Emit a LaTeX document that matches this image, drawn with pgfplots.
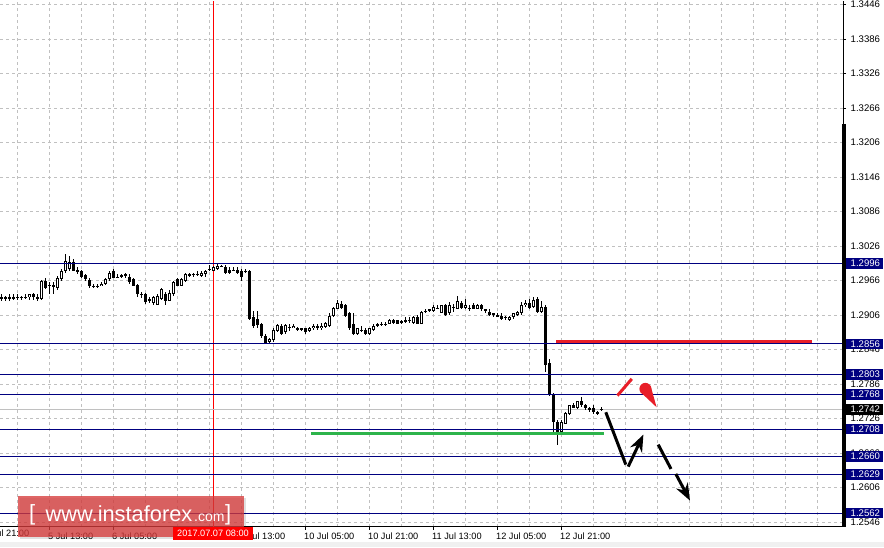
\documentclass[border=0pt]{standalone}
\usepackage{pgfplots}
\pgfplotsset{compat=1.18}
\usepackage{pgfplotstable}
\usepackage{fontspec}
\setmainfont{Liberation Sans}
\usetikzlibrary{arrows.meta}
\definecolor{navy}{RGB}{0,0,128}
\definecolor{gridc}{RGB}{192,192,192}
\definecolor{lvlred}{RGB}{232,30,40}
\definecolor{lvlgreen}{RGB}{45,180,75}
\definecolor{logored}{RGB}{215,60,60}

\pgfplotstableread{
i o h l c
0 1.2938 1.2942 1.2931 1.2935
1 1.2935 1.2940 1.2931 1.2938
2 1.2938 1.2942 1.2930 1.2935
3 1.2935 1.2942 1.2933 1.2938
4 1.2938 1.2942 1.2933 1.2937
5 1.2937 1.2940 1.2933 1.2938
6 1.2938 1.2942 1.2935 1.2937
7 1.2937 1.2943 1.2933 1.2942
8 1.2942 1.2945 1.2933 1.2937
9 1.2937 1.2942 1.2931 1.2935
10 1.2935 1.2968 1.2933 1.2966
11 1.2966 1.2970 1.2952 1.2954
12 1.2957 1.2963 1.2943 1.2959
13 1.2959 1.2963 1.2943 1.2956
14 1.2954 1.2975 1.2949 1.2971
15 1.2968 1.2987 1.2966 1.2983
16 1.2982 1.3013 1.2980 1.3001
17 1.2987 1.3008 1.2983 1.2999
18 1.2999 1.3003 1.2982 1.2983
19 1.2985 1.2989 1.2978 1.2982
20 1.2982 1.2985 1.2971 1.2973
21 1.2975 1.2978 1.2966 1.2968
22 1.2968 1.2971 1.2954 1.2956
23 1.2957 1.2961 1.2954 1.2956
24 1.2956 1.2961 1.2954 1.2957
25 1.2957 1.2963 1.2956 1.2961
26 1.2961 1.2970 1.2959 1.2968
27 1.2968 1.2983 1.2966 1.2980
28 1.2982 1.2987 1.2970 1.2971
29 1.2973 1.2977 1.2970 1.2971
30 1.2975 1.2978 1.2971 1.2973
31 1.2977 1.2980 1.2971 1.2975
32 1.2973 1.2977 1.2961 1.2963
33 1.2968 1.2971 1.2956 1.2957
34 1.2959 1.2961 1.2938 1.2942
35 1.2943 1.2947 1.2935 1.2942
36 1.2943 1.2945 1.2926 1.2928
37 1.2935 1.2938 1.2928 1.2930
38 1.2928 1.2940 1.2924 1.2937
39 1.2924 1.2943 1.2923 1.2940
40 1.2935 1.2954 1.2933 1.2952
41 1.2943 1.2947 1.2923 1.2931
42 1.2931 1.2949 1.2930 1.2945
43 1.2942 1.2966 1.2940 1.2964
44 1.2968 1.2971 1.2956 1.2957
45 1.2957 1.2970 1.2956 1.2968
46 1.2966 1.2980 1.2964 1.2978
47 1.2975 1.2980 1.2973 1.2977
48 1.2977 1.2980 1.2973 1.2978
49 1.2978 1.2982 1.2975 1.2977
50 1.2975 1.2983 1.2973 1.2980
51 1.2978 1.2985 1.2973 1.2983
52 1.2987 1.2994 1.2982 1.2985
53 1.2983 1.2992 1.2982 1.2990
54 1.2987 1.2996 1.2985 1.2992
55 1.2990 1.2994 1.2989 1.2992
56 1.2990 1.2994 1.2978 1.2980
57 1.2985 1.2989 1.2978 1.2980
58 1.2985 1.2989 1.2982 1.2983
59 1.2985 1.2989 1.2978 1.2980
60 1.2983 1.2987 1.2966 1.2973
61 1.2983 1.2987 1.2980 1.2982
62 1.2983 1.2985 1.2898 1.2900
63 1.2902 1.2914 1.2884 1.2888
64 1.2900 1.2914 1.2884 1.2888
65 1.2891 1.2893 1.2867 1.2869
66 1.2870 1.2874 1.2857 1.2858
67 1.2860 1.2867 1.2857 1.2865
68 1.2862 1.2883 1.2860 1.2881
69 1.2879 1.2890 1.2877 1.2888
70 1.2888 1.2891 1.2872 1.2874
71 1.2876 1.2890 1.2874 1.2888
72 1.2886 1.2890 1.2879 1.2884
73 1.2884 1.2890 1.2883 1.2888
74 1.2884 1.2886 1.2879 1.2881
75 1.2883 1.2884 1.2879 1.2881
76 1.2883 1.2884 1.2874 1.2876
77 1.2879 1.2886 1.2877 1.2884
78 1.2883 1.2890 1.2881 1.2888
79 1.2888 1.2890 1.2881 1.2883
80 1.2883 1.2893 1.2881 1.2888
81 1.2886 1.2895 1.2884 1.2893
82 1.2888 1.2909 1.2886 1.2905
83 1.2905 1.2921 1.2903 1.2919
84 1.2917 1.2933 1.2916 1.2928
85 1.2926 1.2930 1.2917 1.2919
86 1.2923 1.2926 1.2903 1.2905
87 1.2909 1.2912 1.2881 1.2883
88 1.2891 1.2909 1.2872 1.2874
89 1.2874 1.2884 1.2872 1.2883
90 1.2881 1.2888 1.2877 1.2879
91 1.2881 1.2883 1.2872 1.2874
92 1.2874 1.2884 1.2872 1.2883
93 1.2881 1.2890 1.2879 1.2888
94 1.2888 1.2893 1.2886 1.2891
95 1.2891 1.2895 1.2888 1.2890
96 1.2890 1.2895 1.2888 1.2891
97 1.2891 1.2900 1.2890 1.2897
98 1.2898 1.2900 1.2891 1.2893
99 1.2897 1.2898 1.2890 1.2891
100 1.2893 1.2898 1.2891 1.2895
101 1.2895 1.2902 1.2893 1.2898
102 1.2898 1.2902 1.2893 1.2897
103 1.2893 1.2905 1.2891 1.2903
104 1.2903 1.2907 1.2890 1.2891
105 1.2891 1.2914 1.2890 1.2912
106 1.2914 1.2917 1.2910 1.2912
107 1.2914 1.2917 1.2912 1.2916
108 1.2914 1.2923 1.2912 1.2921
109 1.2919 1.2923 1.2916 1.2917
110 1.2910 1.2924 1.2909 1.2923
111 1.2923 1.2926 1.2905 1.2907
112 1.2909 1.2928 1.2907 1.2923
113 1.2921 1.2926 1.2912 1.2919
114 1.2917 1.2940 1.2916 1.2930
115 1.2928 1.2931 1.2917 1.2919
116 1.2919 1.2935 1.2917 1.2924
117 1.2919 1.2923 1.2914 1.2917
118 1.2924 1.2928 1.2916 1.2917
119 1.2917 1.2926 1.2916 1.2924
120 1.2923 1.2926 1.2914 1.2916
121 1.2916 1.2917 1.2910 1.2914
122 1.2912 1.2916 1.2905 1.2907
123 1.2909 1.2910 1.2903 1.2907
124 1.2907 1.2910 1.2902 1.2903
125 1.2905 1.2909 1.2898 1.2900
126 1.2903 1.2905 1.2898 1.2902
127 1.2898 1.2905 1.2895 1.2903
128 1.2902 1.2910 1.2900 1.2909
129 1.2907 1.2914 1.2905 1.2912
130 1.2909 1.2928 1.2907 1.2924
131 1.2923 1.2933 1.2921 1.2928
132 1.2928 1.2935 1.2917 1.2919
133 1.2921 1.2938 1.2919 1.2933
134 1.2935 1.2938 1.2910 1.2912
135 1.2912 1.2931 1.2910 1.2921
136 1.2921 1.2923 1.2808 1.2820
137 1.2822 1.2829 1.2766 1.2768
138 1.2768 1.2770 1.2697 1.2721
139 1.2721 1.2724 1.2681 1.2703
140 1.2703 1.2723 1.2700 1.2721
141 1.2717 1.2738 1.2716 1.2735
142 1.2735 1.2750 1.2733 1.2749
143 1.2750 1.2754 1.2744 1.2745
144 1.2744 1.2757 1.2742 1.2756
145 1.2756 1.2764 1.2747 1.2749
146 1.2749 1.2752 1.2742 1.2744
147 1.2742 1.2747 1.2738 1.2745
148 1.2745 1.2749 1.2735 1.2737
149 1.2735 1.2740 1.2733 1.2738
150 1.2743 1.2746 1.2740 1.2742
}\candles

\newcommand{\lbl}{\fontsize{9.2}{10}\selectfont}
\newcommand{\plbl}{\fontsize{9.6}{10}\selectfont}

\begin{document}
\begin{tikzpicture}[x=1pt,y=1pt]
\fill[white] (0,0) rectangle (884,547);
\fill[black!6] (0,0) rectangle (884,5);
\begin{axis}[
  at={(0,35.5)}, anchor=south west,
  width=843pt, height=526pt, scale only axis,
  xmin=-0.25, xmax=210.5, ymin=1.25383, ymax=1.3453,
  clip=false,
  axis x line*=bottom, axis y line*=right,
  axis line style={black, line width=0.8pt},
  xtick={12,28,...,140},
  xticklabels={5 Jul 13:00,6 Jul 05:00,6 Jul 21:00,7 Jul 13:00,10 Jul 05:00,10 Jul 21:00,11 Jul 13:00,12 Jul 05:00,12 Jul 21:00},
  minor xtick={4,20,...,196,156,172,188,204},
  ytick={1.2546,1.2606,1.2666,1.2726,1.2786,1.2846,1.2906,1.2966,1.3026,1.3086,1.3146,1.3206,1.3266,1.3326,1.3386,1.3446},
  yticklabels={1.2546,1.2606,1.2666,1.2726,1.2786,1.2846,1.2906,1.2966,1.3026,1.3086,1.3146,1.3206,1.3266,1.3326,1.3386,1.3446},
  tick align=outside, major tick length=3pt, minor tick length=0pt,
  tick style={black, line width=0.8pt},
  grid=both,
  major grid style={gridc, dash pattern=on 3pt off 3pt, line width=0.8pt},
  minor grid style={gridc, dash pattern=on 3pt off 3pt, line width=0.8pt},
  x tick label style={font=\lbl, anchor=north west, inner sep=0pt, xshift=-1pt, yshift=-3pt},
  y tick label style={font=\plbl, anchor=west, inner sep=0pt, xshift=4.5pt},
]
% crosshair
\addplot[red, line width=0.8pt] coordinates {(53,1.25383) (53,1.3453)};
% bid line
\addplot[gridc, line width=0.9pt] coordinates {(-0.25,1.2742) (210.5,1.2742)};
% wicks
\addplot[draw=none, mark=none, error bars/.cd, y dir=both, y explicit, error mark=none,
  error bar style={draw=black, line width=1pt}]
  table[x=i, y expr={(\thisrow{h}+\thisrow{l})/2}, y error expr={(\thisrow{h}-\thisrow{l})/2}] {\candles};
% bodies
\addplot[draw=none, mark=none, error bars/.cd, y dir=both, y explicit, error mark=none,
  error bar style={draw=black, line width=3pt}]
  table[x=i, y expr={(\thisrow{o}+\thisrow{c})/2}, y error expr={abs(\thisrow{c}-\thisrow{o})/2}] {\candles};
% hollow inside of bullish bodies
\addplot[draw=none, mark=none, error bars/.cd, y dir=both, y explicit, error mark=none,
  error bar style={draw=white, line width=1pt}]
  table[x=i, y expr={(\thisrow{o}+\thisrow{c})/2}, y error expr={ifthenelse(\thisrow{c}>\thisrow{o}, max((\thisrow{c}-\thisrow{o})/2-0.000174,0), 0)}] {\candles};
% levels
\addplot[navy, line width=0.9pt] coordinates {(-0.25,1.2996) (210.5,1.2996)};
\addplot[navy, line width=0.9pt] coordinates {(-0.25,1.2856) (210.5,1.2856)};
\addplot[navy, line width=0.9pt] coordinates {(-0.25,1.2803) (210.5,1.2803)};
\addplot[navy, line width=0.9pt] coordinates {(-0.25,1.2768) (210.5,1.2768)};
\addplot[navy, line width=0.9pt] coordinates {(-0.25,1.2708) (210.5,1.2708)};
\addplot[navy, line width=0.9pt] coordinates {(-0.25,1.2660) (210.5,1.2660)};
\addplot[navy, line width=0.9pt] coordinates {(-0.25,1.2629) (210.5,1.2629)};
\addplot[navy, line width=0.9pt] coordinates {(-0.25,1.2562) (210.5,1.2562)};
% resistance / support
\addplot[lvlred, line width=3.4pt] coordinates {(138.75,1.2860) (202.75,1.2860)};
\addplot[lvlgreen, line width=3.4pt] coordinates {(77.5,1.2700) (150.75,1.2700)};
% forecast strokes
\draw[lvlred, line width=3pt] (axis cs:154.1,1.27661) -- (axis cs:157.7,1.27951);
\fill[lvlred] (axis cs:161.1,1.27778) circle[radius=6pt];
\fill[lvlred] (axis cs:162.4,1.27831) -- (axis cs:163.9,1.27458) -- (axis cs:159.85,1.27724) -- cycle;
\draw[black, line width=3pt] (axis cs:151.2,1.27371) -- (axis cs:156.2,1.26461);
\draw[black, line width=3pt, -{Stealth[length=17pt, width=13pt]}] (axis cs:156.8,1.26426) -- (axis cs:160.6,1.26983);
\draw[black, line width=3pt] (axis cs:164.3,1.26809) -- (axis cs:167.5,1.26386);
\draw[black, line width=3pt, -{Stealth[length=17pt, width=13pt]}] (axis cs:168.7,1.26299) -- (axis cs:172.25,1.25835);
% anchors for overlays
\coordinate (L2996) at (axis cs:210.5,1.2996);
\coordinate (L2856) at (axis cs:210.5,1.2856);
\coordinate (L2803) at (axis cs:210.5,1.2803);
\coordinate (L2768) at (axis cs:210.5,1.2768);
\coordinate (L2742) at (axis cs:210.5,1.2742);
\coordinate (L2708) at (axis cs:210.5,1.2708);
\coordinate (L2660) at (axis cs:210.5,1.2660);
\coordinate (L2629) at (axis cs:210.5,1.2629);
\coordinate (L2562) at (axis cs:210.5,1.2562);
\coordinate (XL) at (axis cs:-4,1.25383);
\coordinate (BB) at (axis cs:210.5,1.25383);
\coordinate (BT) at (axis cs:210.5,1.32391);
\end{axis}
% thick right bar
\fill[black] ([xshift=-1]BB) rectangle ([xshift=3]BT);
% first partial date label
\node[font=\lbl, anchor=north west, inner sep=0pt, xshift=-1pt, yshift=-3pt] at (XL) {4 Jul 21:00};
% price boxes
\foreach \n/\t/\col in {L2996/1.2996/navy, L2856/1.2856/navy, L2803/1.2803/navy, L2768/1.2768/navy, L2742/1.2742/black, L2708/1.2708/navy, L2660/1.2660/navy, L2629/1.2629/navy, L2562/1.2562/navy}{
  \fill[\col] ([shift={(3,-5.2)}]\n) rectangle ([shift={(40,5.2)}]\n);
  \node[anchor=west, inner sep=0pt, text=white, font=\plbl] at ([xshift=7.5]\n) {\t};
}
% logo
\fill[black, fill opacity=0.12] (20,8) rectangle (246,49);
\fill[logored, fill opacity=0.78] (18,10) rectangle (244,51);
\node[anchor=base west, inner sep=0pt, text=white, font=\fontsize{22}{22}\selectfont] at (29,26.5) {[};
\node[anchor=base west, inner sep=0pt, text=white, font=\fontsize{21.8}{22}\selectfont] at (45.5,26) {www.instaforex};
\node[anchor=base west, inner sep=0pt, text=white, font=\fontsize{14}{14}\selectfont] at (194,26) {.com};
\node[anchor=base west, inner sep=0pt, text=white, font=\fontsize{22}{22}\selectfont] at (225,26.5) {]};
% date label
\fill[red] (173,7) rectangle (253,20);
\node[text=white, font=\lbl, inner sep=0pt] at (213,13.5) {2017.07.07 08:00};
\pgfresetboundingbox
\path[use as bounding box] (0,0) rectangle (884,547);
\end{tikzpicture}
\end{document}
